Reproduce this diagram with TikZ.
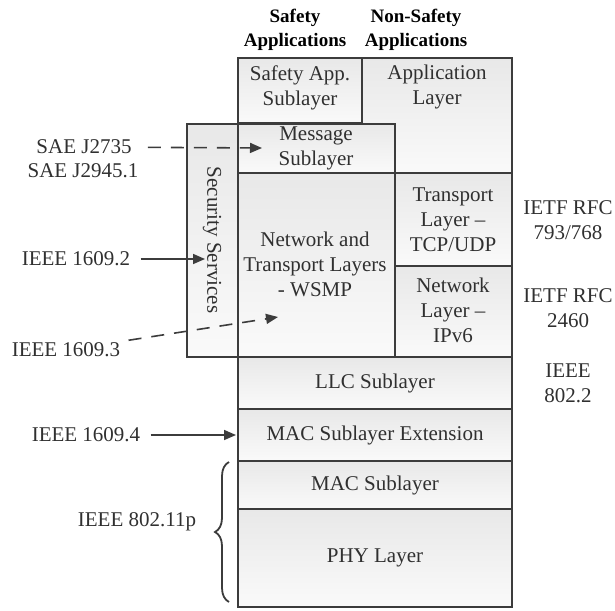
\documentclass[tikz,border=0pt]{standalone}
\usepackage{fontspec}
\setmainfont{Liberation Serif}
\usetikzlibrary{arrows.meta,decorations.pathreplacing}

\definecolor{edgegray}{HTML}{3C3C3C}
\definecolor{textgray}{HTML}{303030}

\begin{document}
\begin{tikzpicture}[x=0.5pt, y=-0.5pt, >={Triangle[length=6pt,width=5pt]},
  layer/.style={draw=edgegray, line width=1.4pt, top color=black!9, bottom color=black!2},
  txt/.style={align=center, text=textgray, font=\fontsize{10.5}{12.5}\selectfont, inner sep=1pt},
  head/.style={align=center, text=black, font=\fontsize{9.5}{12}\selectfont\bfseries, inner sep=1pt},
  link/.style={->, draw=edgegray, line width=0.8pt},
  dashlink/.style={link, dash pattern=on 6.5pt off 5pt}]

  \useasboundingbox (0,0) rectangle (615,610);

  % === Column headings ===
  \node[head] (safehead) at (295,30) {Safety\\Applications};
  \node[head] (nonsafehead) at (416,30) {Non-Safety\\Applications};

  % === Upper part of the stack ===
  \draw[layer] (238,58) rectangle (362,123);
  \draw[layer] (362,58) rectangle (512,173);
  \draw[layer] (187,124) rectangle (238,357);
  \draw[layer] (238,124) rectangle (395,173);
  \draw[layer] (238,173) rectangle (395,357);
  \draw[layer] (395,173) rectangle (512,266);
  \draw[layer] (395,266) rectangle (512,357);

  % === Lower part of the stack ===
  \draw[layer] (238,357) rectangle (512,409);
  \draw[layer] (238,409) rectangle (512,461);
  \draw[layer] (238,461) rectangle (512,509);
  \draw[layer] (238,509) rectangle (512,607);

  % Layer names
  \node[txt] (safeapp) at (300,88) {Safety App.\\Sublayer};
  \node[txt] (applayer) at (437,87) {Application\\Layer};
  \node[txt] (msg) at (316,148) {Message\\Sublayer};
  \node[txt, rotate=-90] (security) at (212,240) {Security Services};
  \node[txt] (wsmp) at (315,264) {Network and\\Transport Layers\\- WSMP};
  \node[txt] (transport) at (453,220) {Transport\\Layer --\\TCP/UDP};
  \node[txt] (network) at (453,310) {Network\\Layer --\\IPv6};
  \node[txt] (llc) at (375,383) {LLC Sublayer};
  \node[txt] (macext) at (375,435) {MAC Sublayer Extension};
  \node[txt] (mac) at (375,485) {MAC Sublayer};
  \node[txt] (phy) at (375,558) {PHY Layer};

  % === Standards on the right ===
  \node[txt] (rfctcp) at (568,220) {IETF RFC\\793/768};
  \node[txt] (rfcip) at (568,308) {IETF RFC\\2460};
  \node[txt] (ieeellc) at (568,383) {IEEE\\802.2};

  % === Standards on the left ===
  \node[txt] (saea) at (84,147) {SAE J2735};
  \node[txt] (saeb) at (83,171) {SAE J2945.1};
  \node[txt] (ieeesec) at (76,259) {IEEE 1609.2};
  \node[txt] (ieeewsmp) at (66,350) {IEEE 1609.3};
  \node[txt] (ieeemac) at (86,435) {IEEE 1609.4};
  \node[txt] (ieeewave) at (137,522) {IEEE 802.11p};

  % Arrow ends
  \coordinate (msgin) at (262,148);
  \coordinate (secin) at (205,259);
  \coordinate (wsmpin) at (278,317);
  \coordinate (macin) at (236,435);

  \draw[dashlink, shorten <=7pt] (saea) -- (msgin);
  \draw[link, shorten <=4pt] (ieeesec) -- (secin);
  \draw[dashlink, shorten <=3pt] (ieeewsmp) -- (wsmpin);
  \draw[link, shorten <=4pt] (ieeemac) -- (macin);

  % Brace for 802.11p
  \draw[edgegray, line width=0.9pt, decorate, decoration={brace, amplitude=7pt}]
    (229,602) -- (229,462);

\end{tikzpicture}
\end{document}
